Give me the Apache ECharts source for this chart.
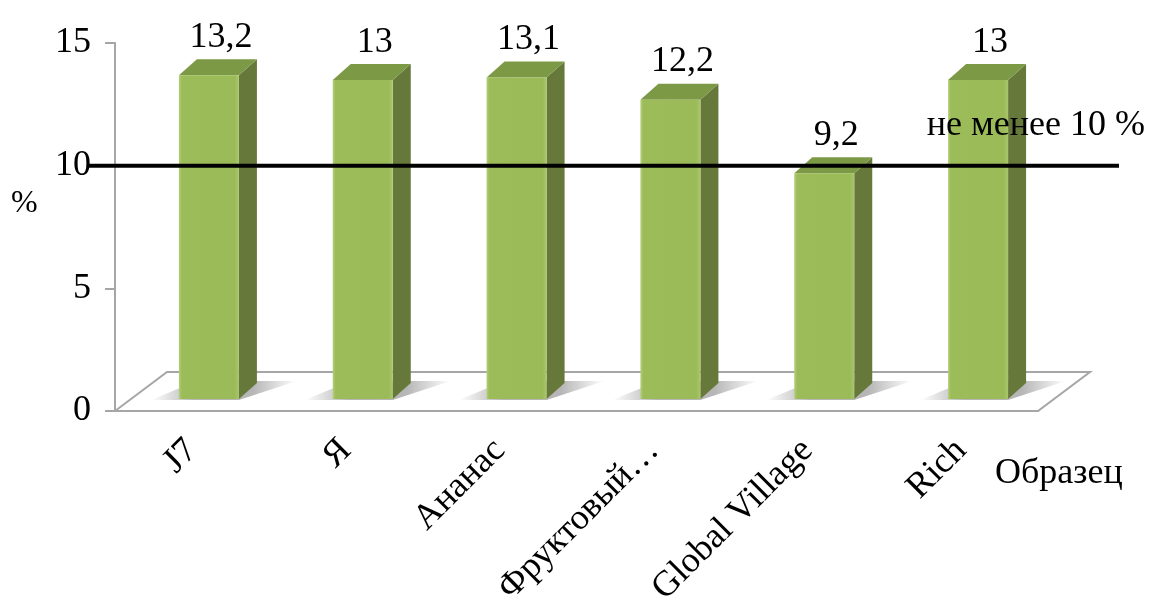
<!DOCTYPE html>
<html><head><meta charset="utf-8">
<script src="https://cdn.jsdelivr.net/npm/echarts@6/dist/echarts.min.js"></script>
<style>html,body{margin:0;padding:0;background:#fff}#c{width:1150px;height:605px}</style>
</head><body><div id="c"></div>
<script>
// ---- data ----
const categories = ['J7', 'Я', 'Ананас', 'Фруктовый…', 'Global Village', 'Rich'];
const values = [13.2, 13, 13.1, 12.2, 9.2, 13];
const threshold = 10;
const thresholdLabel = 'не менее 10 %';
const yMin = 0, yMax = 15, yStep = 5;
const xAxisTitle = 'Образец';
const yAxisTitle = '%';

const SERIF = '"Liberation Serif", "Times New Roman", serif';
const fmt = v => String(v).replace('.', ',');

function renderFloor(params, api) {
  const cs = params.coordSys;
  const yf = cs.y + cs.height, xl = cs.x, xr = cs.x + cs.width;
  const FDX = 52, FDY = 39;
  return {
    type: 'polygon',
    shape: { points: [[xl, yf], [xl + FDX, yf - FDY], [xr + FDX, yf - FDY], [xr, yf]] },
    style: { fill: '#ffffff', stroke: '#a6a6a6', lineWidth: 2 }
  };
}

function renderBar(params, api) {
  const i = api.value(0), v = api.value(1);
  const b = api.coord([i, 0]), t = api.coord([i, v]);
  const W = 60, DX = 18, DY = 16, LIFT = 12, SHIFT = 17;
  const x0 = b[0] + SHIFT - W / 2, x1 = x0 + W;
  const yb = b[1] - LIFT, yt = t[1] - LIFT;
  const shadowGrad = new echarts.graphic.LinearGradient(0, 0, 1, 0, [
    { offset: 0, color: 'rgba(110,110,110,0)' },
    { offset: 0.3, color: 'rgba(110,110,110,0.5)' },
    { offset: 0.7, color: 'rgba(110,110,110,0.5)' },
    { offset: 1, color: 'rgba(110,110,110,0)' }
  ]);
  const frontGrad = new echarts.graphic.LinearGradient(0, 0, 1, 0, [
    { offset: 0, color: '#b3cf78' },
    { offset: 0.05, color: '#9cbb59' },
    { offset: 0.93, color: '#9bbb59' },
    { offset: 1, color: '#a9c66c' }
  ]);
  return {
    type: 'group',
    children: [
      { type: 'polygon', shape: { points: [[x0 - 28, yb + 1], [x1, yb + 1], [x1 + DX + 40, yb - DY - 2], [x0 + DX, yb - DY - 2]] },
        style: { fill: shadowGrad } },
      { type: 'polygon', shape: { points: [[x1, yt], [x1 + DX, yt - DY], [x1 + DX, yb - DY], [x1, yb]] },
        style: { fill: '#66793a' } },
      { type: 'polygon', shape: { points: [[x0, yt], [x0 + DX, yt - DY], [x1 + DX, yt - DY], [x1, yt]] },
        style: { fill: '#7c9a45' } },
      { type: 'rect', shape: { x: x0, y: yt, width: W, height: yb - yt },
        style: { fill: frontGrad } },
      { type: 'text', style: { text: fmt(v), x: x0 + W / 2 + DX / 2 + 3, y: yt - DY - 22,
        align: 'center', verticalAlign: 'middle', font: '36px ' + SERIF, fill: '#000' } }
    ]
  };
}

function renderThreshold(params, api) {
  const cs = params.coordSys;
  const y = api.coord([0, api.value(1)])[1];
  const xl = cs.x - 28, xr = cs.x + cs.width + 81;
  return {
    type: 'group',
    children: [
      { type: 'line', shape: { x1: xl, y1: y, x2: xr, y2: y }, style: { stroke: '#000', lineWidth: 4 } },
      { type: 'text', style: { text: thresholdLabel, x: xr + 26, y: y - 40, align: 'right',
        verticalAlign: 'middle', font: '36px ' + SERIF, fill: '#000' } }
    ]
  };
}

const chart = echarts.init(document.getElementById('c'), null, { renderer: 'canvas' });
chart.setOption({
  animation: false,
  backgroundColor: '#fff',
  grid: { left: 115, right: 112, top: 43, bottom: 194, containLabel: false, outerBoundsMode: 'none' },
  xAxis: {
    type: 'category',
    data: categories,
    axisLine: { lineStyle: { color: '#a6a6a6', width: 2 } },
    axisTick: { length: 10, interval: 0, lineStyle: { color: '#a6a6a6', width: 2 } },
    axisLabel: { rotate: 45, margin: 34, interval: 0, fontFamily: SERIF, fontSize: 36, color: '#000' },
    z: 5
  },
  yAxis: {
    type: 'value',
    min: yMin, max: yMax, interval: yStep,
    splitLine: { show: false },
    axisLine: { show: true, lineStyle: { color: '#a6a6a6', width: 2 } },
    axisTick: { show: true, length: 10, lineStyle: { color: '#a6a6a6', width: 2 } },
    axisLabel: { margin: 24, fontFamily: SERIF, fontSize: 36, color: '#000' }
  },
  graphic: [
    { type: 'text', left: 995, top: 456, style: { text: xAxisTitle, font: '36px ' + SERIF, fill: '#000' } },
    { type: 'text', left: 11, top: 188, style: { text: yAxisTitle, font: '32px ' + SERIF, fill: '#000' } }
  ],
  series: [
    { type: 'custom', z: 1, silent: true, clip: false, renderItem: renderFloor, data: [[0, 0]] },
    { type: 'custom', z: 2, silent: true, clip: false, renderItem: renderBar,
      encode: { x: 0, y: 1 }, data: values.map((v, i) => [i, v]) },
    { type: 'custom', z: 3, silent: true, clip: false, renderItem: renderThreshold, data: [[0, threshold]] }
  ]
});
</script>
</body></html>
